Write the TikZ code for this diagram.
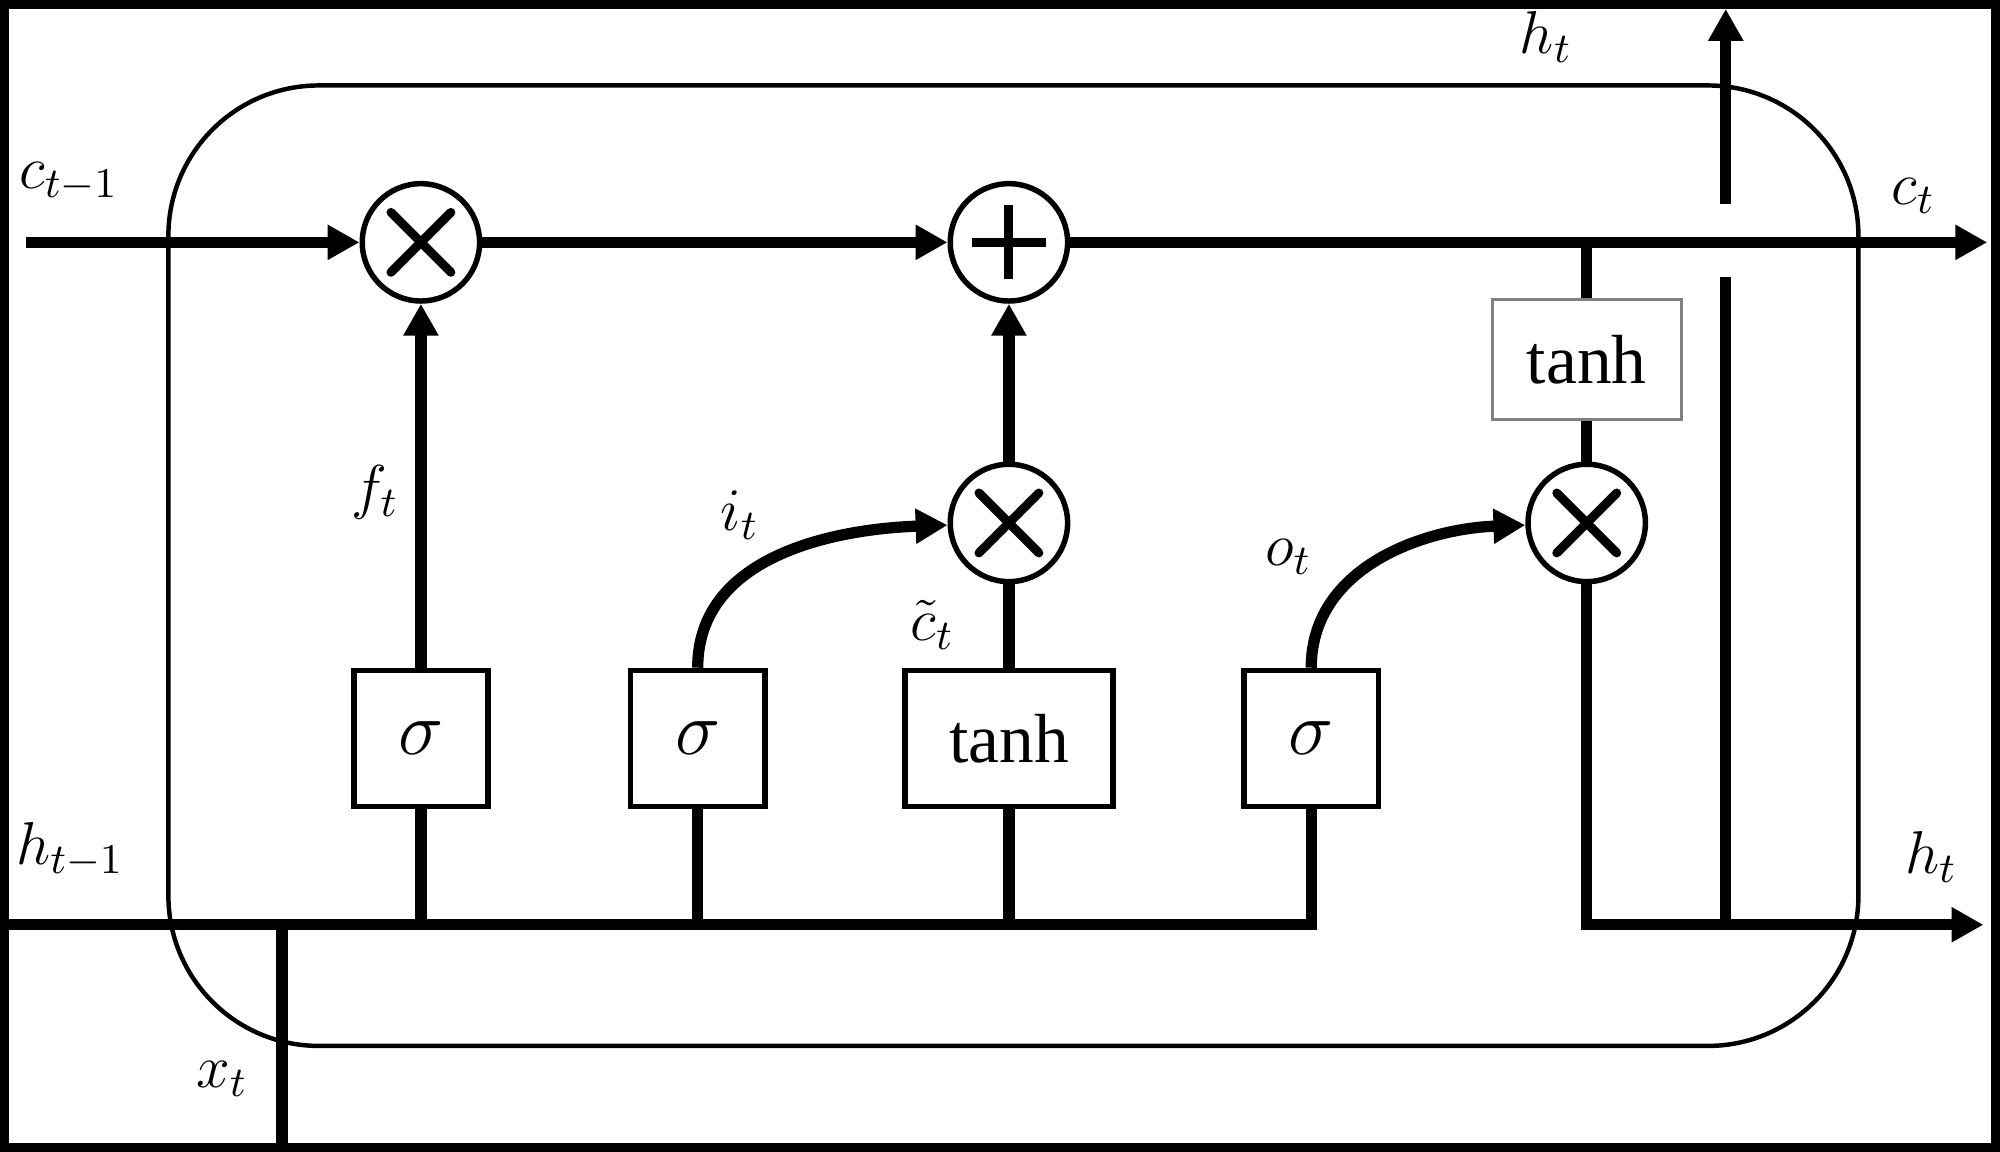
\RequirePackage{fix-cm}
\documentclass[tikz,border=0pt]{standalone}
\usepackage{fontspec}
\setmainfont{Liberation Serif}
\usetikzlibrary{arrows.meta}
\usetikzlibrary{positioning}

\begin{document}
\begin{tikzpicture}[x=0.1mm,y=-0.1mm,>={Triangle[length=2.5mm,width=2.6mm]}]
	\tikzstyle{wire} = [line width=0.88mm]
	\tikzstyle{gate} = [rectangle, draw, line width=0.45mm, minimum width=10.55mm, minimum height=10.65mm, inner sep=0pt, font=\fontsize{17}{20}\selectfont]
	\tikzstyle{tanhfont} = [font=\fontsize{15.5}{18}\selectfont]
	\tikzstyle{op} = [circle, draw, line width=0.43mm, minimum size=9.2mm, inner sep=0pt]
	\tikzstyle{mul} = [op, path picture={\draw[line width=0.7mm, line cap=round] ([shift={(-2.35mm,-2.35mm)}]path picture bounding box.center) -- ([shift={(2.35mm,2.35mm)}]path picture bounding box.center) ([shift={(-2.35mm,2.35mm)}]path picture bounding box.center) -- ([shift={(2.35mm,-2.35mm)}]path picture bounding box.center);}]
	\tikzstyle{plus} = [op, path picture={\draw[line width=0.7mm] ([shift={(-2.9mm,0mm)}]path picture bounding box.center) -- ([shift={(2.9mm,0mm)}]path picture bounding box.center) ([shift={(0mm,2.9mm)}]path picture bounding box.center) -- ([shift={(0mm,-2.9mm)}]path picture bounding box.center);}]
	\tikzstyle{lbl} = [inner sep=0pt, font=\fontsize{13.5}{16}\selectfont]
	\useasboundingbox (0,0) rectangle (1568,903);
	\fill[black] (0,0) rectangle (1568,903);
	\fill[white] (7,7) rectangle (1561,896);
	\draw[line width=0.35mm, rounded corners=11.8mm] (132,67) rectangle (1457,820);
	\node [mul](mul_f) at (330,190) {};
	\node [plus](add_c) at (791,190) {};
	\node [mul](mul_i) at (791,410) {};
	\node [mul](mul_o) at (1244,410) {};
	\node [gate](forget) at (330,579) {$\sigma$};
	\node [gate](input) at (547,579) {$\sigma$};
	\node [gate,tanhfont,minimum width=16.35mm](cand) at (791,579) {tanh};
	\node [gate](output) at (1028,579) {$\sigma$};
	\node [rectangle,draw=gray,line width=0.25mm,minimum width=14.8mm,minimum height=9.4mm,tanhfont](tanh_c) at (1244,282) {tanh};
	\coordinate (c_in) at (20,190);
	\coordinate (c_out) at (1558,190);
	\coordinate (h_in) at (7,725);
	\coordinate (h_out) at (1555,725);
	\coordinate (x_in) at (221,896);
	\coordinate (h_split) at (1353,725);
	\coordinate (gap_lo) at (1353,217);
	\coordinate (gap_hi) at (1353,160);
	\coordinate (h_up) at (1353,7);
	\draw [wire,->] (c_in) -- (mul_f);
	\draw [wire,->] (mul_f) -- (add_c);
	\draw [wire,->] (add_c) -- (c_out);
	\draw [wire] (mul_o |- add_c) -- (tanh_c);
	\draw [wire] (tanh_c) -- (mul_o);
	\draw [wire] (h_in) -- (output |- h_in) -- (output);
	\draw [wire] (forget) -- (forget |- h_in);
	\draw [wire] (input) -- (input |- h_in);
	\draw [wire] (cand) -- (cand |- h_in);
	\draw [wire] (x_in) -- (x_in |- h_in);
	\draw [wire,->] (forget) -- (mul_f);
	\draw [wire] (cand) -- (mul_i);
	\draw [wire,->] (mul_i) -- (add_c);
	\draw [wire,->] (input.north) to[out=90,in=182] (mul_i);
	\draw [wire,->] (output.north) to[out=90,in=182] (mul_o);
	\draw [wire,->] (mul_o) |- (h_out);
	\draw [wire] (h_split) -- (gap_lo);
	\draw [wire,->] (gap_hi) -- (h_up);
	\node [lbl](c_prev) at (54,143) {$c_{t-1}$};
	\node [lbl](h_prev) at (55,666) {$h_{t-1}$};
	\node [lbl](x_lbl) at (174,846) {$x_t$};
	\node [lbl](f_lbl) at (294,386) {$f_t$};
	\node [lbl](i_lbl) at (580,404) {$i_t$};
	\node [lbl](ct_lbl) at (731,490) {$\tilde{c}_t$};
	\node [lbl](o_lbl) at (1010,437) {$o_t$};
	\node [lbl](h_top) at (1212,29) {$h_t$};
	\node [lbl](c_next) at (1500,154) {$c_t$};
	\node [lbl](h_next) at (1514,672) {$h_t$};
\end{tikzpicture}
\end{document}
